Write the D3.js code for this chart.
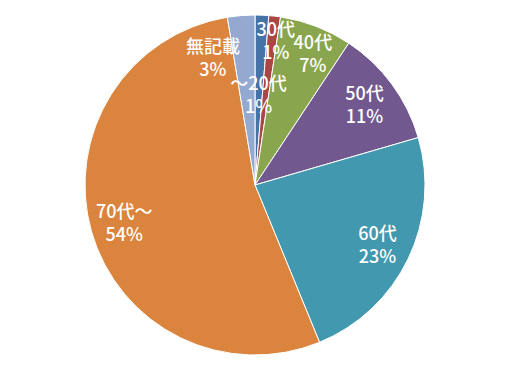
<!DOCTYPE html>
<html>
<head>
<meta charset="utf-8">
<script src="https://cdn.jsdelivr.net/npm/d3@7"></script>
<style>
  body { margin: 0; background: #fff; }
  svg text { font-family: "Noto Sans CJK JP", "Noto Sans", sans-serif; }
</style>
</head>
<body>
<div id="chart"></div>
<script>
// age groups, clockwise from 12 o'clock
var categories = ["～20代", "30代", "40代", "50代", "60代", "70代～", "無記載"];
var shares = [1.3, 1.1, 6.9, 11.2, 23.3, 53.6, 2.6];
var colors = ["#4572A7", "#AA4643", "#89A54E", "#71588F", "#4198AF", "#DB843D", "#93A9CF"];

var width = 509, height = 370;
var cx = 255, cy = 185, radius = 170;

// small slices get their labels pushed aside (excel "best fit")
var labelNudge = {
    "～20代": [-2, 45],
    "30代": [5, -10],
    "40代": [9, -5],
    "無記載": [-31, 8]
};

var data = categories.map(function(c, i) {
    return { name: c, value: shares[i], color: colors[i] };
});

var svg = d3.select("#chart")
    .append("svg")
    .attr("width", width)
    .attr("height", height)
    .append("g")
    .attr("transform", "translate(" + cx + "," + cy + ")");

var pie = d3.pie()
    .sort(null)
    .value(function(d) { return d.value; });

var arc = d3.arc().innerRadius(0).outerRadius(radius);
var labelArc = d3.arc().innerRadius(136).outerRadius(136);

var arcs = pie(data);

svg.selectAll("path")
    .data(arcs)
    .enter()
    .append("path")
    .attr("d", arc)
    .attr("fill", function(d) { return d.data.color; })
    .attr("stroke", "#fff")
    .attr("stroke-width", 1);

var labels = svg.selectAll("text.lbl")
    .data(arcs)
    .enter()
    .append("text")
    .attr("class", "lbl")
    .attr("transform", function(d) {
        var p = labelArc.centroid(d);
        var n = labelNudge[d.data.name] || [0, 0];
        return "translate(" + (p[0] + n[0]) + "," + (p[1] + n[1]) + ")";
    })
    .style("text-anchor", "middle")
    .style("font-size", "18px")
    .style("font-weight", "500")
    .style("fill", "#fff");

labels.append("tspan")
    .attr("x", 0)
    .attr("y", -4)
    .text(function(d) { return d.data.name; });

labels.append("tspan")
    .attr("x", 0)
    .attr("y", 19)
    .text(function(d) { return Math.round(d.data.value) + "%"; });
</script>
</body>
</html>
